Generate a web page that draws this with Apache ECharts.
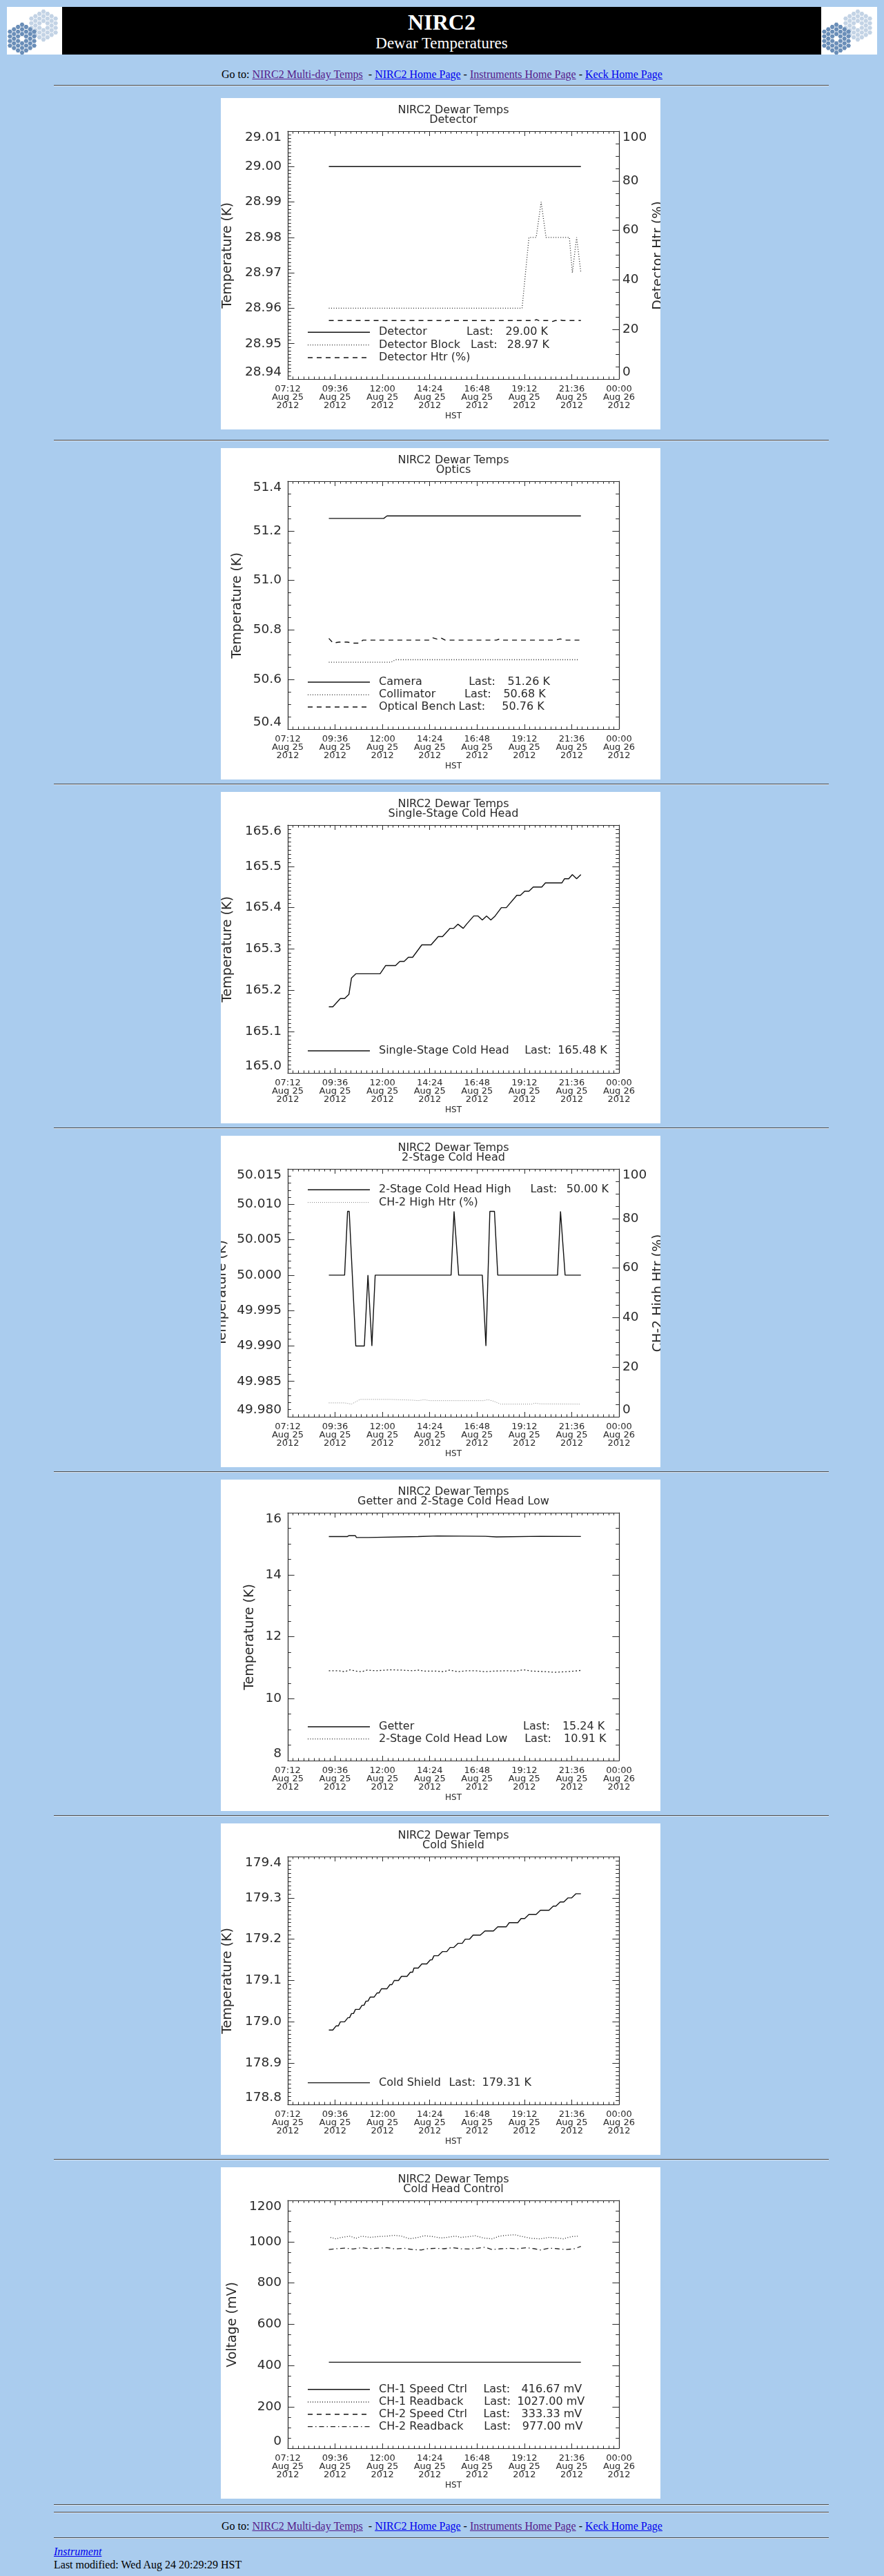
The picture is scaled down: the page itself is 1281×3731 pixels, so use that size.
<!DOCTYPE html>
<html>
<head>
<meta charset="utf-8">
<title>NIRC2 Dewar Temperatures</title>
<script src="https://cdn.jsdelivr.net/npm/echarts@6.0.0/dist/echarts.min.js"></script>
<style>
html,body{margin:0;padding:0;}
body{background:#aaccee;width:1281px;height:3731px;position:relative;overflow:hidden;font-family:"Liberation Serif","Times New Roman",serif;color:#000;}
.hr{position:absolute;left:78px;width:1123px;height:0;border-top:1px solid #4a4a4a;border-bottom:1px solid #dde6f0;}
.box{position:absolute;left:320px;width:637px;height:480px;background:#fff;}
.nav{position:absolute;left:0;width:1281px;text-align:center;font-size:16px;line-height:20px;white-space:nowrap;}
a.v{color:#551a8b;} a.u{color:#0000ee;}
#banner{position:absolute;left:90px;top:10px;width:1100px;height:69px;background:#000;color:#fff;}
.logo{position:absolute;top:10px;height:69px;background:#fff;overflow:hidden;}
</style>
</head>
<body>
<div class="logo" id="logoL" style="left:10px;width:80px;"></div>
<div id="banner">
  <div style="position:absolute;left:0;width:1100px;top:5.7px;line-height:32px;font-size:32px;font-weight:bold;text-align:center;">NIRC2</div>
  <div style="position:absolute;left:0;width:1100px;top:41.2px;line-height:23px;font-size:23px;text-align:center;">Dewar Temperatures</div>
</div>
<div class="logo" id="logoR" style="left:1190px;width:81px;"></div>

<div class="nav" style="top:97.7px;">Go to: <a class="v" href="#">NIRC2 Multi-day Temps</a>&nbsp; - <a class="u" href="#">NIRC2 Home Page</a> - <a class="v" href="#">Instruments Home Page</a> - <a class="u" href="#">Keck Home Page</a></div>

<div class="nav" style="top:3649px;">Go to: <a class="v" href="#">NIRC2 Multi-day Temps</a>&nbsp; - <a class="u" href="#">NIRC2 Home Page</a> - <a class="v" href="#">Instruments Home Page</a> - <a class="u" href="#">Keck Home Page</a></div>
<div style="position:absolute;left:78px;top:3686px;font-size:16px;line-height:20px;"><a class="u" href="#"><i>Instrument</i></a></div>
<div style="position:absolute;left:78px;top:3704.5px;font-size:16px;line-height:20px;">Last modified: Wed Aug 24 20:29:29 HST</div>

<script>
// ---------------- DATA ----------------
// x values are minutes after 07:12 HST, Aug 25 2012
const tickTimes = ['07:12','09:36','12:00','14:24','16:48','19:12','21:36','00:00'];
const tickDates = ['Aug 25','Aug 25','Aug 25','Aug 25','Aug 25','Aug 25','Aug 25','Aug 26'];
const tickYears = ['2012','2012','2012','2012','2012','2012','2012','2012'];

// Chart 1: Detector
const detectorTimes = [125, 892];
const detectorVals = [29.00, 29.00];
const detBlockTimes = [125, 713, 734, 756, 771, 786, 857, 866, 879, 892];
const detBlockVals = [28.96, 28.96, 28.98, 28.98, 28.99, 28.98, 28.98, 28.97, 28.98, 28.97];
const detHtrTimes = [125, 300, 470, 476, 484, 700, 750, 757, 764, 800, 806, 814, 822, 828, 836, 892];
const detHtrVals = [23.6, 23.6, 23.6, 23.2, 23.6, 23.6, 23.6, 24.0, 23.6, 23.6, 23.2, 23.6, 23.6, 23.9, 23.6, 23.6];

// Chart 2: Optics
const cameraTimes = [125, 292, 302, 892];
const cameraVals = [51.25, 51.25, 51.26, 51.26];
const collimTimes = [125, 315, 328, 885];
const collimVals = [50.67, 50.67, 50.68, 50.68];
const benchTimes = [125, 138, 156, 181, 199, 216, 229, 432, 442, 454, 466, 479, 635, 644, 652, 816, 829, 842, 892];
const benchVals = [50.766, 50.747, 50.751, 50.751, 50.747, 50.747, 50.759, 50.759, 50.768, 50.763, 50.768, 50.759, 50.759, 50.763, 50.759, 50.759, 50.764, 50.759, 50.759];

// Chart 3: Single-Stage Cold Head
const coldHeadTimes = [125,137,160,173,186,194,207,281,298,328,341,354,367,380,408,436,458,471,494,505,518,534,544,566,579,592,605,618,631,650,665,697,708,721,734,747,773,784,834,842,855,866,879,892];
const coldHeadVals = [165.16,165.16,165.18,165.18,165.19,165.23,165.24,165.24,165.26,165.26,165.27,165.27,165.28,165.28,165.31,165.31,165.33,165.33,165.35,165.35,165.36,165.35,165.36,165.38,165.38,165.37,165.38,165.37,165.38,165.40,165.40,165.43,165.43,165.44,165.44,165.45,165.45,165.46,165.46,165.47,165.47,165.48,165.47,165.48];

// Chart 4: 2-Stage Cold Head
const ch2HighTimes = [125,173,182,187,207,233,244,256,266,497,506,509,520,592,603,615,629,639,821,830,833,844,892];
const ch2HighVals = [50.000,50.000,50.009,50.009,49.990,49.990,50.000,49.990,50.000,50.000,50.009,50.009,50.000,50.000,49.990,50.009,50.009,50.000,50.000,50.009,50.009,50.000,50.000];
const ch2HtrTimes = [125,173,194,220,311,380,397,415,432,596,609,626,648,743,752,769,892];
const ch2HtrVals = [5.6,5.6,5.1,7.0,7.0,6.7,6.5,6.9,6.5,6.5,6.9,6.3,5.1,5.1,5.5,5.2,5.1];

// Chart 5: Getter and 2-Stage Cold Head Low
const getterTimes = [125,181,186,206,209,244,247,397,401,456,460,601,605,635,639,769,773,892];
const getterVals = [15.23,15.23,15.26,15.26,15.20,15.20,15.23,15.23,15.25,15.25,15.24,15.24,15.22,15.22,15.24,15.24,15.235,15.235];
const chLowTimes = [125,155,173,190,207,225,242,268,311,346,380,397,415,449,475,492,518,544,570,600,630,665,691,717,743,786,812,847,873,892];
const chLowVals = [10.90,10.90,10.87,10.93,10.89,10.87,10.92,10.90,10.93,10.92,10.90,10.92,10.89,10.89,10.87,10.92,10.87,10.90,10.90,10.87,10.89,10.90,10.89,10.93,10.89,10.87,10.85,10.87,10.89,10.91];

// Chart 6: Cold Shield
const shieldTimes = [125,137,147,154,160,173,183,188,194,200,206,218,226,232,238,244,251,263,272,278,285,302,311,317,324,337,346,363,373,380,384,397,408,423,434,439,445,458,471,484,494,505,518,531,540,553,564,586,600,626,639,665,674,700,710,721,734,756,769,795,808,816,829,840,853,864,877,892];
const shieldVals = [178.98,178.98,178.99,178.99,179.00,179.00,179.01,179.01,179.02,179.02,179.03,179.03,179.04,179.04,179.05,179.05,179.06,179.06,179.07,179.07,179.08,179.08,179.09,179.09,179.10,179.10,179.11,179.11,179.12,179.12,179.13,179.13,179.14,179.14,179.15,179.15,179.16,179.16,179.17,179.17,179.18,179.18,179.19,179.19,179.20,179.20,179.21,179.21,179.22,179.22,179.23,179.23,179.24,179.24,179.25,179.25,179.26,179.26,179.27,179.27,179.28,179.28,179.29,179.29,179.30,179.30,179.31,179.31];

// Chart 7: Cold Head Control (mV)
const ch1SpeedTimes = [125, 892];
const ch1SpeedVals = [416.67, 416.67];
const ch1ReadTimes = [130,147,164,190,207,225,250,276,302,324,346,371,397,415,441,466,484,510,527,553,570,596,622,644,665,691,708,726,743,769,795,821,838,864,885];
const ch1ReadVals = [1021,1014,1021,1027,1016,1027,1021,1025,1027,1031,1027,1014,1021,1029,1025,1018,1021,1027,1021,1025,1029,1018,1014,1027,1031,1034,1027,1021,1016,1014,1021,1018,1014,1025,1027];
const ch2SpeedTimes = [];
const ch2SpeedVals = [];
const ch2ReadTimes = [125,147,173,199,225,250,276,302,328,354,380,406,423,449,475,501,527,553,579,600,622,648,674,700,726,751,769,795,821,847,872,892];
const ch2ReadVals = [962,966,969,965,971,966,969,971,965,968,962,960,966,968,966,971,966,965,969,973,962,966,968,966,971,966,960,969,966,962,966,977];

// Legend texts
const legend1Names = ['Detector', 'Detector Block', 'Detector Htr (%)'];
const legend1Last = ['29.00 K', '28.97 K', ''];
const legend2Names = ['Camera', 'Collimator', 'Optical Bench'];
const legend2Last = ['51.26 K', '50.68 K', '50.76 K'];
const legend3Names = ['Single-Stage Cold Head'];
const legend3Last = ['165.48 K'];
const legend4Names = ['2-Stage Cold Head High', 'CH-2 High Htr (%)'];
const legend4Last = ['50.00 K', ''];
const legend5Names = ['Getter', '2-Stage Cold Head Low'];
const legend5Last = ['15.24 K', '10.91 K'];
const legend6Names = ['Cold Shield'];
const legend6Last = ['179.31 K'];
const legend7Names = ['CH-1 Speed Ctrl', 'CH-1 Readback', 'CH-2 Speed Ctrl', 'CH-2 Readback'];
const legend7Last = ['416.67 mV', '1027.00 mV', '333.33 mV', '977.00 mV'];

// ---------------- RENDERING ----------------
const FONT = '"DejaVu Sans", Verdana, sans-serif';
const AX = '#2a2a2a';
const TXT = '#2a2a2a';
const LS = {
  solid:   {type:'solid', color:'#111', width:1.4},
  dot:     {type:[1,2.5], color:'#222', width:1.3},
  lightdot:{type:[1,2], color:'#808080', width:1},
  sparsedot:{type:[2,3], color:'#222', width:1.3},
  dash:    {type:[7,6], color:'#111', width:1.4},
  dashdot: {type:[7,4,1.5,4], color:'#222', width:1.3}
};
const pairs = (t, v) => t.map((x, i) => [x, v[i]]);

function hexCluster(cx, cy, r, color){
  let s = '';
  for (let q = -3; q <= 3; q++) for (let rr = -3; rr <= 3; rr++) {
    const d = Math.max(Math.abs(q), Math.abs(rr), Math.abs(-q - rr));
    if (d < 1 || d > 3) continue;
    const x = cx + 1.5 * r * q, y = cy + Math.sqrt(3) * r * (rr + q / 2);
    const pts = [];
    for (let k = 0; k < 6; k++) { const a = Math.PI / 3 * k; pts.push((x + 0.88 * r * Math.cos(a)).toFixed(1) + ',' + (y + 0.88 * r * Math.sin(a)).toFixed(1)); }
    s += '<polygon points="' + pts.join(' ') + '" fill="' + color + '"/>';
  }
  return s;
}
['logoL','logoR'].forEach(id => {
  document.getElementById(id).innerHTML = '<svg width="81" height="69">' + hexCluster(53, 27, 3.9, '#c3d3e5') + hexCluster(22, 46, 3.9, '#6a8eb8') + '</svg>';
});

[124.3, 638, 1136, 1634, 2132, 2630, 3128, 3628.3, 3638.7, 3675.7].forEach(y => {
  const d = document.createElement('div'); d.className = 'hr'; d.style.top = (y - 1) + 'px'; document.body.appendChild(d);
});

function txt(x, y, s, size, rot){
  return {type:'text', x:x, y:y, rotation: rot || 0, silent:true,
    style:{text:s, fontSize:size, fontFamily:FONT, fill:TXT, align: rot ? 'center' : 'left', verticalAlign:'middle'}};
}
function ctxt(x, y, s, size){
  return {type:'text', x:x, y:y, silent:true, style:{text:s, fontSize:size, fontFamily:FONT, fill:TXT, align:'center', verticalAlign:'middle'}};
}

function xAxisOpt(pos, showLabel){
  return {type:'value', position:pos, min:0, max:1008, interval:144,
    axisLine:{show:true, onZero:false, lineStyle:{color:AX, width:1.2}},
    axisTick:{show:true, inside:true, length:7, lineStyle:{color:AX, width:1}},
    minorTick:{show:true, splitNumber:9, length:3.6, lineStyle:{color:AX, width:1}},
    splitLine:{show:false}, minorSplitLine:{show:false},
    axisLabel:{show:showLabel, interval:0, margin:9, fontSize:13, lineHeight:11.7, fontFamily:FONT, color:TXT,
      showMinLabel:true, showMaxLabel:true, hideOverlap:false,
      formatter: v => { const i = Math.round(v / 144); return tickTimes[i] + '\n' + tickDates[i] + '\n' + tickYears[i]; }}
  };
}
function yAxisOpt(a, pos, showLabel){
  return {type:'value', position:pos, min:a.min, max:a.max, interval:a.int,
    axisLine:{show:true, onZero:false, lineStyle:{color:AX, width:1.2}},
    axisTick:{show:true, inside:true, length:9.6, lineStyle:{color:AX, width:1}},
    minorTick:{show:true, splitNumber:a.minor, length:4.8, lineStyle:{color:AX, width:1}},
    splitLine:{show:false}, minorSplitLine:{show:false},
    axisLabel:{show:showLabel, margin: pos === 'left' ? 9 : 5, fontSize:18.5, fontFamily:FONT, color:TXT,
      showMinLabel:true, showMaxLabel:true, hideOverlap:false,
      verticalAlignMinLabel:'bottom', verticalAlignMaxLabel:'top',
      formatter: v => v.toFixed(a.dec)}
  };
}

function makeChart(top, c){
  const div = document.createElement('div');
  div.className = 'box'; div.style.top = top + 'px';
  document.body.appendChild(div);
  const chart = echarts.init(div, null, {renderer:'canvas', width:637, height:480});
  const g = [];
  g.push(ctxt(337, 18, 'NIRC2 Dewar Temps', 16));
  g.push(ctxt(337, 32, c.title2, 16));
  g.push(ctxt(337, 461, 'HST', 12));
  g.push(txt(c.yNameX, 228, c.yName, 19, Math.PI / 2));
  if (c.right) g.push(txt(c.right.nameX, 228, c.right.name, 19, Math.PI / 2));
  c.legend.rows.forEach((r, i) => {
    const y = c.legend.ys[i];
    const ls = LS[r.style];
    g.push({type:'line', silent:true, shape:{x1:126, y1:y, x2:216, y2:y},
      style:{stroke:ls.color, lineWidth:ls.width, lineDash: Array.isArray(ls.type) ? ls.type : null}});
    g.push(txt(229, y, r.name, 16));
    if (r.last) {
      g.push(txt(r.lastX, y, 'Last:', 16));
      g.push(txt(r.valX, y, r.last, 16));
    }
  });
  const yAxes = [yAxisOpt(c.y, 'left', true), c.right ? yAxisOpt(c.right, 'right', true) : yAxisOpt(c.y, 'right', false)];
  chart.setOption({
    animation:false,
    textStyle:{fontFamily:FONT},
    grid:{left:97, right:60, top:48, bottom:73, containLabel:false, outerBoundsMode:'none'},
    xAxis:[xAxisOpt('bottom', true), xAxisOpt('top', false)],
    yAxis:yAxes,
    series:c.series.map(s => ({type:'line', xAxisIndex:0, yAxisIndex:s.axis || 0, data:pairs(s.t, s.v),
      symbol:'none', showSymbol:false, silent:true, clip:true, lineStyle:LS[s.style]})),
    graphic:g
  });
}

const L = (names, last, styles, lastX, valX) => names.map((n, i) => ({name:n, last:last[i], style:styles[i], lastX:lastX[i], valX:valX[i]}));

makeChart(142, {
  title2:'Detector', yName:'Temperature (K)', yNameX:10,
  y:{min:28.94, max:29.01, int:0.01, minor:10, dec:2},
  right:{min:0, max:100, int:20, minor:4, dec:0, name:'Detector Htr (%)', nameX:634.5},
  series:[{t:detectorTimes, v:detectorVals, style:'solid'},
          {t:detBlockTimes, v:detBlockVals, style:'dot'},
          {t:detHtrTimes, v:detHtrVals, style:'dash', axis:1}],
  legend:{ys:[339.3, 357.7, 376], rows:L(legend1Names, legend1Last, ['solid','dot','dash'], [356, 362, 0], [412.6, 414.7, 0])}
});
makeChart(649, {
  title2:'Optics', yName:'Temperature (K)', yNameX:23.8,
  y:{min:50.4, max:51.4, int:0.2, minor:4, dec:1}, right:null,
  series:[{t:cameraTimes, v:cameraVals, style:'solid'},
          {t:collimTimes, v:collimVals, style:'dot'},
          {t:benchTimes, v:benchVals, style:'dash'}],
  legend:{ys:[339, 357.3, 375], rows:L(legend2Names, legend2Last, ['solid','dot','dash'], [359.2, 353, 344.5], [415.5, 409.4, 407.3])}
});
makeChart(1147, {
  title2:'Single-Stage Cold Head', yName:'Temperature (K)', yNameX:10,
  y:{min:165.0, max:165.6, int:0.1, minor:10, dec:1}, right:null,
  series:[{t:coldHeadTimes, v:coldHeadVals, style:'solid'}],
  legend:{ys:[375], rows:L(legend3Names, legend3Last, ['solid'], [440.2], [488.3])}
});
makeChart(1645, {
  title2:'2-Stage Cold Head', yName:'Temperature (K)', yNameX:2,
  y:{min:49.98, max:50.015, int:0.005, minor:5, dec:3},
  right:{min:0, max:100, int:20, minor:4, dec:0, name:'CH-2 High Htr (%)', nameX:634.5},
  series:[{t:ch2HighTimes, v:ch2HighVals, style:'solid'},
          {t:ch2HtrTimes, v:ch2HtrVals, style:'lightdot', axis:1}],
  legend:{ys:[78.3, 96.6], rows:L(legend4Names, legend4Last, ['solid','lightdot'], [448.4, 0], [500.7, 0])}
});
makeChart(2143, {
  title2:'Getter and 2-Stage Cold Head Low', yName:'Temperature (K)', yNameX:42.3,
  y:{min:8, max:16, int:2, minor:4, dec:0}, right:null,
  series:[{t:getterTimes, v:getterVals, style:'solid'},
          {t:chLowTimes, v:chLowVals, style:'sparsedot'}],
  legend:{ys:[358, 375.6], rows:L(legend5Names, legend5Last, ['solid','dot'], [438.1, 440.2], [494.9, 497])}
});
makeChart(2641, {
  title2:'Cold Shield', yName:'Temperature (K)', yNameX:10,
  y:{min:178.8, max:179.4, int:0.1, minor:10, dec:1}, right:null,
  series:[{t:shieldTimes, v:shieldVals, style:'solid'}],
  legend:{ys:[375.6], rows:L(legend6Names, legend6Last, ['solid'], [330.4], [378.5])}
});
makeChart(3139, {
  title2:'Cold Head Control', yName:'Voltage (mV)', yNameX:17,
  y:{min:0, max:1200, int:200, minor:4, dec:0}, right:null,
  series:[{t:ch1SpeedTimes, v:ch1SpeedVals, style:'solid'},
          {t:ch1ReadTimes, v:ch1ReadVals, style:'dot'},
          {t:ch2SpeedTimes, v:ch2SpeedVals, style:'dash'},
          {t:ch2ReadTimes, v:ch2ReadVals, style:'dashdot'}],
  legend:{ys:[321.7, 340, 357.7, 375.7], rows:L(legend7Names, legend7Last, ['solid','dot','dash','dashdot'], [380.4, 381.3, 380.4, 381.3], [435.6, 429.4, 435.6, 436.8])}
});
</script>
</body>
</html>
